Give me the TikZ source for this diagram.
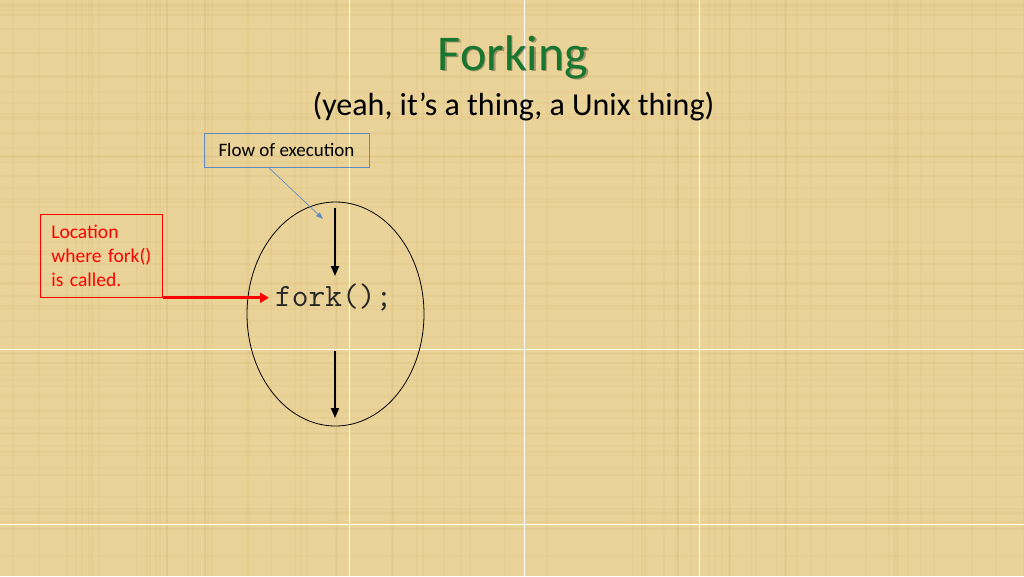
\documentclass[tikz,border=0pt]{standalone}
\usepackage{fontspec}
\setmainfont{Carlito}
\usetikzlibrary{shapes.geometric, positioning, arrows.meta}

\definecolor{papyrus}{RGB}{234,211,152}
\definecolor{fibre}{RGB}{205,175,105}
\definecolor{titlegreen}{RGB}{24,118,48}
\definecolor{flowblue}{RGB}{96,140,196}

\tikzset{
  seam/.style={white, line width=1pt},
  flowbox/.style={draw=flowblue, line width=0.8pt, inner sep=0pt},
  redbox/.style={draw=red, line width=0.8pt, text=red, align=left, inner xsep=11pt, inner ysep=0pt},
  callarrow/.style={red, line width=3pt, -{Triangle[length=9pt, width=10pt]}},
  execarrow/.style={black, line width=1.8pt, -{Triangle[length=10pt, width=8pt]}},
  notearrow/.style={flowblue, line width=0.7pt, -{Triangle[length=7pt, width=5pt]}}
}

\begin{document}
\begin{tikzpicture}[x=1pt, y=-1pt]

\useasboundingbox (0,0) rectangle (1024,576);
\fill[papyrus] (0,0) rectangle (1024,576);

% papyrus fibres
\pgfmathsetseed{11}
\foreach \i in {1,...,70}{
  \pgfmathsetmacro{\px}{random(0,1024)}
  \pgfmathsetmacro{\py}{random(0,576)}
  \draw[fibre, opacity=0.13, line width=1.2pt] (\px,0) -- (\px,576);
  \draw[fibre, opacity=0.10, line width=1.2pt] (0,\py) -- (1024,\py);
}

% tile seams of the texture
\foreach \sx in {349,524,699}
  \draw[seam] (\sx,0) -- (\sx,576);
\foreach \sy in {349,524}
  \draw[seam] (0,\sy) -- (1024,\sy);

% title
\node (titleshadow) [anchor=base, text=black, opacity=0.3, font=\fontsize{50}{60}\selectfont, inner sep=0pt] at (514.5,71.5) {Forking};
\node (title) [anchor=base, text=titlegreen, font=\fontsize{50}{60}\selectfont, inner sep=0pt] at (513,70) {Forking};
\node (subtitle) [anchor=base, font=\fontsize{32}{38}\selectfont, inner sep=0pt] at (513.5,115) {(yeah, it’s a thing, a Unix thing)};

% the process
\node (proc) [ellipse, draw, line width=0.8pt, minimum width=177pt, minimum height=224pt] at (335.5,314) {};
\node (fork) [anchor=base west, inner xsep=6pt, text=black!85, font=\ttfamily\fontsize{32.5}{38}\selectfont] at (269,306) {fork();};

\coordinate (topstart) at (335,208);
\coordinate (topend) at (335,276);
\coordinate (botstart) at (335,351);
\coordinate (botend) at (335,418);
\draw[execarrow] (topstart) -- (topend);
\draw[execarrow] (botstart) -- (botend);

% callouts
\node (flow) [flowbox, minimum width=165pt, minimum height=34pt, font=\fontsize{19}{23}\selectfont] at (286.5,150) {Flow of execution};
\coordinate (flowtip) at (323,219);
\draw[notearrow] ([xshift=-18pt]flow.south) -- (flowtip);

\node (loc) [redbox, text width=100pt, minimum height=83pt, anchor=north west, font=\fontsize{19.5}{24}\selectfont] at (40,214) {Location\\where fork()\\is called.};
\draw[callarrow] (loc.south east) -- (loc.south east -| fork.west);

\end{tikzpicture}
\end{document}
